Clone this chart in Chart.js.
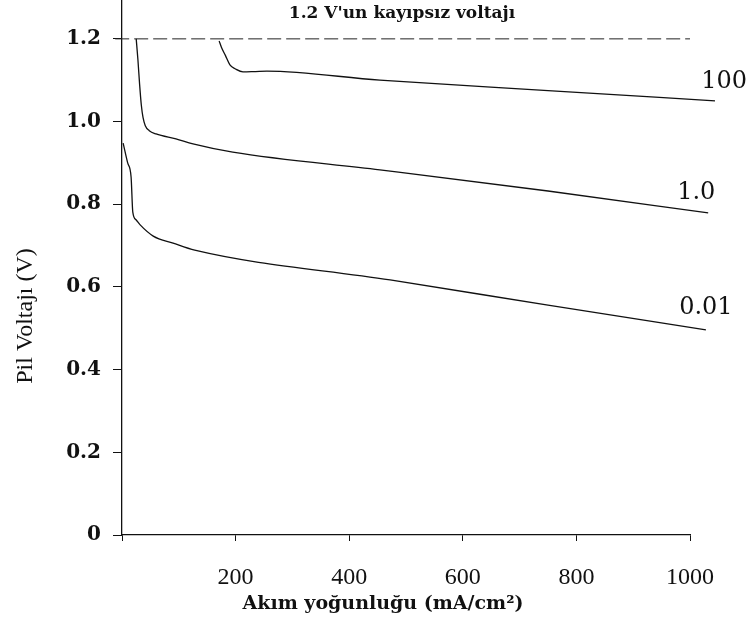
<!DOCTYPE html>
<html>
<head>
<meta charset="utf-8">
<script src="https://cdn.jsdelivr.net/npm/chart.js@4/dist/chart.umd.min.js"></script>
<style>
  html, body { margin: 0; padding: 0; background: #fff; }
  #wrap { width: 747px; height: 624px; }
</style>
</head>
<body>
<div id="wrap"><canvas id="pil-chart"></canvas></div>
<script>
// akım yoğunluğu (mA/cm²) ve pil voltajı (V), okunan değerler
const x100 = [171, 175, 182, 190, 200, 213, 235, 255, 454, 750, 1044];
const y100 = [1.195, 1.18, 1.16, 1.137, 1.127, 1.12, 1.121, 1.122, 1.10, 1.075, 1.05];

const x1 = [25, 28, 31, 34, 37, 41, 48, 60, 95, 125, 195, 454, 750, 1032];
const y1 = [1.2, 1.15, 1.09, 1.04, 1.01, 0.99, 0.978, 0.97, 0.958, 0.946, 0.926, 0.883, 0.832, 0.779];

const x001 = [2, 10, 16, 19, 25, 32, 55, 90, 128, 472, 750, 1028];
const y001 = [0.948, 0.90, 0.866, 0.781, 0.762, 0.75, 0.723, 0.706, 0.689, 0.617, 0.556, 0.496];

const xRef = [-12, 1000];
const yRef = [1.2, 1.2];

const xTicks = [0, 200, 400, 600, 800, 1000];
const yTicks = [0, 0.2, 0.4, 0.6, 0.8, 1.0, 1.2];

const curveLabels = [
  { text: '100', x: 1060, y: 1.096 },
  { text: '1.0', x: 1011, y: 0.827 },
  { text: '0.01', x: 1028, y: 0.549 }
];

const toPoints = (xs, ys) => xs.map((x, i) => ({ x: x, y: ys[i] }));

const curve = (data) => ({
  data: data,
  borderColor: '#111',
  borderWidth: 1.3,
  pointRadius: 0,
  cubicInterpolationMode: 'monotone',
  clip: false
});

const textPlugin = {
  id: 'texts',
  afterDatasetsDraw(chart) {
    const { ctx, scales: { x, y } } = chart;
    ctx.save();
    ctx.fillStyle = '#111';
    ctx.textAlign = 'center';
    ctx.textBaseline = 'middle';

    ctx.font = '24px "DejaVu Serif", serif';
    curveLabels.forEach(l => {
      ctx.fillText(l.text, x.getPixelForValue(l.x), y.getPixelForValue(l.y));
    });

    ctx.font = 'bold 17px "DejaVu Serif", serif';
    ctx.fillText("1.2 V'un kayıpsız voltajı", 402, 14);

    ctx.font = 'bold 19px "DejaVu Serif", serif';
    ctx.fillText('Akım yoğunluğu (mA/cm²)', 383, 604);

    ctx.font = '24px "Liberation Serif", "DejaVu Serif", serif';
    ctx.translate(26, 316);
    ctx.rotate(-Math.PI / 2);
    ctx.fillText('Pil Voltajı (V)', 0, 0);
    ctx.restore();
  }
};

new Chart(document.getElementById('pil-chart'), {
  type: 'line',
  data: {
    datasets: [
      curve(toPoints(x100, y100)),
      curve(toPoints(x1, y1)),
      curve(toPoints(x001, y001)),
      {
        data: toPoints(xRef, yRef),
        borderColor: '#222',
        borderWidth: 1,
        borderDash: [14, 5],
        pointRadius: 0,
        clip: false
      }
    ]
  },
  options: {
    responsive: true,
    maintainAspectRatio: false,
    animation: false,
    layout: { padding: { left: 0, right: 57, top: 0, bottom: 0 } },
    plugins: { legend: { display: false }, tooltip: { enabled: false } },
    scales: {
      x: {
        type: 'linear',
        min: 0,
        max: 1000,
        afterBuildTicks: s => { s.ticks = xTicks.map(v => ({ value: v })); },
        afterFit: s => { s.height = 89; s.paddingLeft = 0; s.paddingRight = 0; },
        border: { color: '#111', width: 1.3 },
        grid: { drawOnChartArea: false, color: '#111', tickLength: 6 },
        ticks: {
          color: '#111',
          padding: 22,
          maxRotation: 0,
          font: { family: '"Liberation Serif", "DejaVu Serif", serif', size: 24 },
          callback: v => (v === 0 ? '' : v)
        }
      },
      y: {
        min: 0,
        max: 1.294,
        afterBuildTicks: s => { s.ticks = yTicks.map(v => ({ value: v })); },
        afterFit: s => { s.width = 122; s.paddingTop = 0; s.paddingBottom = 0; },
        border: { color: '#111', width: 1.3 },
        grid: { drawOnChartArea: false, color: '#111', tickLength: 9 },
        ticks: {
          color: '#111',
          padding: 12,
          font: { family: '"DejaVu Serif", serif', size: 20, weight: 'bold' },
          callback: v => (v === 0 ? '0' : v.toFixed(1))
        }
      }
    }
  },
  plugins: [textPlugin]
});
</script>
</body>
</html>
